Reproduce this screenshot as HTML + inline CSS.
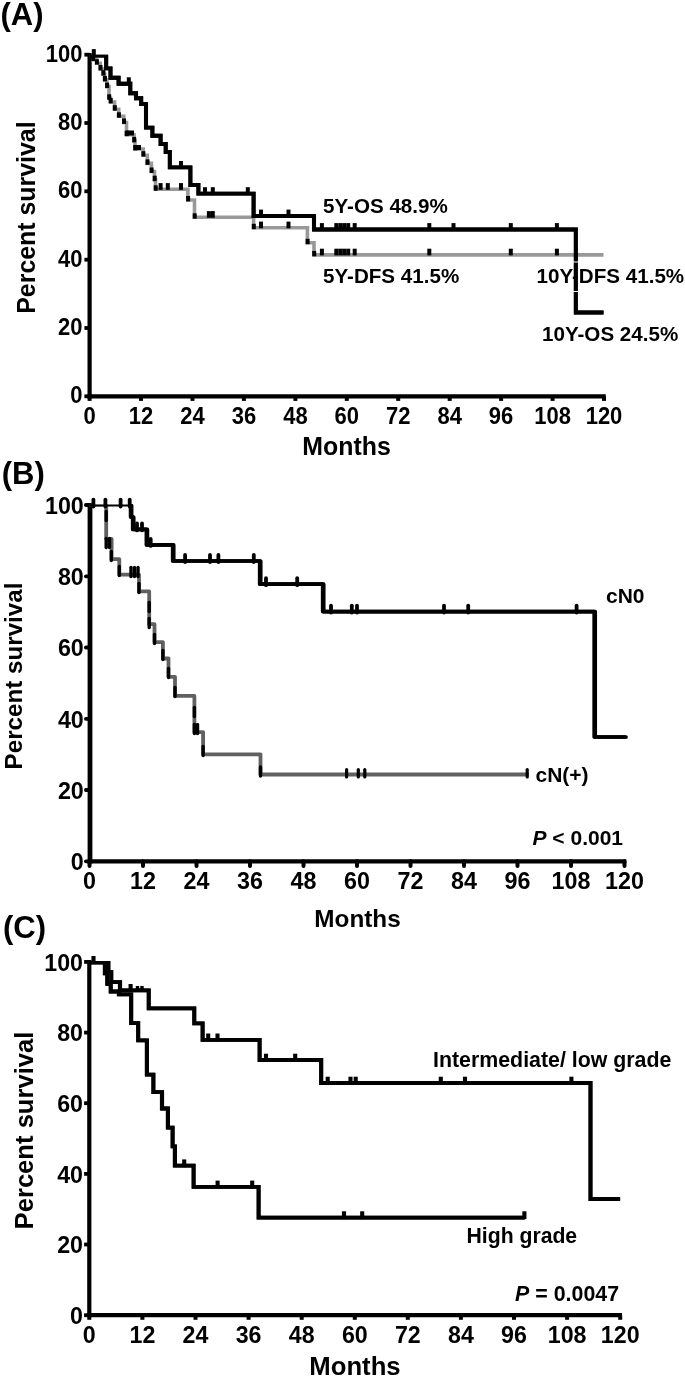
<!DOCTYPE html><html><head><meta charset="utf-8"><title>Survival curves</title>
<style>html,body{margin:0;padding:0;background:#fff}svg{display:block}</style></head><body>
<svg width="685" height="1378" viewBox="0 0 685 1378">
<rect width="685" height="1378" fill="#fff"/>
<defs><clipPath id="ca"><rect x="0" y="54.8" width="685" height="400"/></clipPath><clipPath id="cc"><rect x="0" y="961" width="685" height="400"/></clipPath></defs>
<text x="0.5" y="24.5" font-size="31" text-anchor="start" font-family="Liberation Sans, Arial, sans-serif" font-weight="bold" >(A)</text>
<line x1="89.6" y1="52.900000000000006" x2="89.6" y2="398.40000000000003" stroke="#000" stroke-width="4.2"/>
<line x1="87.5" y1="396.3" x2="605.8" y2="396.3" stroke="#000" stroke-width="4.2"/>
<line x1="84.39999999999999" y1="396.3" x2="89.6" y2="396.3" stroke="#000" stroke-width="3.8" stroke-linecap="butt"/>
<text transform="translate(82.5,403.4) scale(1,1.05)" font-size="22" text-anchor="end" font-family="Liberation Sans, Arial, sans-serif" font-weight="bold">0</text>
<line x1="84.39999999999999" y1="328.0" x2="89.6" y2="328.0" stroke="#000" stroke-width="3.8" stroke-linecap="butt"/>
<text transform="translate(82.5,335.0) scale(1,1.05)" font-size="22" text-anchor="end" font-family="Liberation Sans, Arial, sans-serif" font-weight="bold">20</text>
<line x1="84.39999999999999" y1="259.7" x2="89.6" y2="259.7" stroke="#000" stroke-width="3.8" stroke-linecap="butt"/>
<text transform="translate(82.5,266.7) scale(1,1.05)" font-size="22" text-anchor="end" font-family="Liberation Sans, Arial, sans-serif" font-weight="bold">40</text>
<line x1="84.39999999999999" y1="191.3" x2="89.6" y2="191.3" stroke="#000" stroke-width="3.8" stroke-linecap="butt"/>
<text transform="translate(82.5,198.4) scale(1,1.05)" font-size="22" text-anchor="end" font-family="Liberation Sans, Arial, sans-serif" font-weight="bold">60</text>
<line x1="84.39999999999999" y1="123.0" x2="89.6" y2="123.0" stroke="#000" stroke-width="3.8" stroke-linecap="butt"/>
<text transform="translate(82.5,130.1) scale(1,1.05)" font-size="22" text-anchor="end" font-family="Liberation Sans, Arial, sans-serif" font-weight="bold">80</text>
<line x1="84.39999999999999" y1="54.7" x2="89.6" y2="54.7" stroke="#000" stroke-width="3.8" stroke-linecap="butt"/>
<text transform="translate(82.5,61.8) scale(1,1.05)" font-size="22" text-anchor="end" font-family="Liberation Sans, Arial, sans-serif" font-weight="bold">100</text>
<line x1="89.6" y1="396.3" x2="89.6" y2="400.90000000000003" stroke="#000" stroke-width="4" stroke-linecap="butt"/>
<text transform="translate(89.6,423.6) scale(1,1.05)" font-size="22" text-anchor="middle" font-family="Liberation Sans, Arial, sans-serif" font-weight="bold">0</text>
<line x1="141.0" y1="396.3" x2="141.0" y2="400.90000000000003" stroke="#000" stroke-width="4" stroke-linecap="butt"/>
<text transform="translate(141.0,423.6) scale(1,1.05)" font-size="22" text-anchor="middle" font-family="Liberation Sans, Arial, sans-serif" font-weight="bold">12</text>
<line x1="192.5" y1="396.3" x2="192.5" y2="400.90000000000003" stroke="#000" stroke-width="4" stroke-linecap="butt"/>
<text transform="translate(192.5,423.6) scale(1,1.05)" font-size="22" text-anchor="middle" font-family="Liberation Sans, Arial, sans-serif" font-weight="bold">24</text>
<line x1="243.9" y1="396.3" x2="243.9" y2="400.90000000000003" stroke="#000" stroke-width="4" stroke-linecap="butt"/>
<text transform="translate(243.9,423.6) scale(1,1.05)" font-size="22" text-anchor="middle" font-family="Liberation Sans, Arial, sans-serif" font-weight="bold">36</text>
<line x1="295.4" y1="396.3" x2="295.4" y2="400.90000000000003" stroke="#000" stroke-width="4" stroke-linecap="butt"/>
<text transform="translate(295.4,423.6) scale(1,1.05)" font-size="22" text-anchor="middle" font-family="Liberation Sans, Arial, sans-serif" font-weight="bold">48</text>
<line x1="346.8" y1="396.3" x2="346.8" y2="400.90000000000003" stroke="#000" stroke-width="4" stroke-linecap="butt"/>
<text transform="translate(346.8,423.6) scale(1,1.05)" font-size="22" text-anchor="middle" font-family="Liberation Sans, Arial, sans-serif" font-weight="bold">60</text>
<line x1="398.2" y1="396.3" x2="398.2" y2="400.90000000000003" stroke="#000" stroke-width="4" stroke-linecap="butt"/>
<text transform="translate(398.2,423.6) scale(1,1.05)" font-size="22" text-anchor="middle" font-family="Liberation Sans, Arial, sans-serif" font-weight="bold">72</text>
<line x1="449.7" y1="396.3" x2="449.7" y2="400.90000000000003" stroke="#000" stroke-width="4" stroke-linecap="butt"/>
<text transform="translate(449.7,423.6) scale(1,1.05)" font-size="22" text-anchor="middle" font-family="Liberation Sans, Arial, sans-serif" font-weight="bold">84</text>
<line x1="501.1" y1="396.3" x2="501.1" y2="400.90000000000003" stroke="#000" stroke-width="4" stroke-linecap="butt"/>
<text transform="translate(501.1,423.6) scale(1,1.05)" font-size="22" text-anchor="middle" font-family="Liberation Sans, Arial, sans-serif" font-weight="bold">96</text>
<line x1="552.6" y1="396.3" x2="552.6" y2="400.90000000000003" stroke="#000" stroke-width="4" stroke-linecap="butt"/>
<text transform="translate(552.6,423.6) scale(1,1.05)" font-size="22" text-anchor="middle" font-family="Liberation Sans, Arial, sans-serif" font-weight="bold">108</text>
<line x1="604.0" y1="396.3" x2="604.0" y2="400.90000000000003" stroke="#000" stroke-width="4" stroke-linecap="butt"/>
<text transform="translate(604.0,423.6) scale(1,1.05)" font-size="22" text-anchor="middle" font-family="Liberation Sans, Arial, sans-serif" font-weight="bold">120</text>
<text transform="translate(34.5,217.6) rotate(-90)" font-size="24.9" text-anchor="middle" font-family="Liberation Sans, Arial, sans-serif" font-weight="bold">Percent survival</text>
<text x="346.5" y="455" font-size="24.9" text-anchor="middle" font-family="Liberation Sans, Arial, sans-serif" font-weight="bold" >Months</text>
<g clip-path="url(#ca)">
<path d="M89.6 55.5 H93.0 V59.6 H96.7 V63.2 H100.3 V69.0 H103.2 V74.2 H104.7 V80.0 H106.9 V86.6 H109.0 V98.3 H110.5 V102.0 H114.6 V109.2 H118.7 V116.3 H123.8 V122.5 H126.5 V134.7 H134.0 V140.9 H135.0 V149.0 H143.2 V155.2 H147.3 V163.4 H151.4 V171.5 H154.5 V179.7 H155.5 V189.3 H187.9 V200.0 H194.5 V217.3 H253.6 V227.8 H307.4 V242.8 H314.0 V254.9 H603.5 V254.9" fill="none" stroke="#999" stroke-width="3.6" stroke-linejoin="miter" stroke-linecap="butt"/>
</g>
<rect x="91.2" y="55.6" width="4" height="5.4" fill="#000"/>
<rect x="94.9" y="59.2" width="4" height="5.4" fill="#000"/>
<rect x="98.5" y="65.0" width="4" height="5.4" fill="#000"/>
<rect x="101.4" y="70.2" width="4" height="5.4" fill="#000"/>
<rect x="102.9" y="76.0" width="4" height="5.4" fill="#000"/>
<rect x="105.1" y="82.6" width="4" height="5.4" fill="#000"/>
<rect x="107.2" y="94.3" width="4" height="5.4" fill="#000"/>
<rect x="108.7" y="98.0" width="4" height="5.4" fill="#000"/>
<rect x="112.8" y="105.2" width="4" height="5.4" fill="#000"/>
<rect x="116.9" y="112.3" width="4" height="5.4" fill="#000"/>
<rect x="122.0" y="118.5" width="4" height="5.4" fill="#000"/>
<rect x="124.7" y="130.7" width="4" height="5.4" fill="#000"/>
<rect x="132.2" y="136.9" width="4" height="5.4" fill="#000"/>
<rect x="133.2" y="145.0" width="4" height="5.4" fill="#000"/>
<rect x="141.4" y="151.2" width="4" height="5.4" fill="#000"/>
<rect x="145.5" y="159.4" width="4" height="5.4" fill="#000"/>
<rect x="149.6" y="167.5" width="4" height="5.4" fill="#000"/>
<rect x="152.7" y="175.7" width="4" height="5.4" fill="#000"/>
<rect x="153.7" y="185.3" width="4" height="5.4" fill="#000"/>
<rect x="186.1" y="196.0" width="4" height="5.4" fill="#000"/>
<rect x="192.7" y="213.3" width="4" height="5.4" fill="#000"/>
<rect x="251.8" y="223.8" width="4" height="5.4" fill="#000"/>
<rect x="305.6" y="238.8" width="4" height="5.4" fill="#000"/>
<rect x="312.2" y="250.9" width="4" height="5.4" fill="#000"/>
<rect x="126" y="130.5" width="8" height="5" fill="#000"/>
<rect x="134" y="145" width="7" height="5" fill="#000"/>
<line x1="160.6" y1="183.1" x2="160.6" y2="189.8" stroke="#000" stroke-width="4.0"/>
<line x1="167.8" y1="183.1" x2="167.8" y2="189.8" stroke="#000" stroke-width="4.0"/>
<line x1="181.0" y1="183.1" x2="181.0" y2="189.8" stroke="#000" stroke-width="4.0"/>
<line x1="208.9" y1="211.1" x2="208.9" y2="217.8" stroke="#000" stroke-width="4.0"/>
<line x1="212.8" y1="211.1" x2="212.8" y2="217.8" stroke="#000" stroke-width="4.0"/>
<line x1="261.0" y1="221.6" x2="261.0" y2="228.3" stroke="#000" stroke-width="4.0"/>
<line x1="288.5" y1="221.6" x2="288.5" y2="228.3" stroke="#000" stroke-width="4.0"/>
<line x1="321.9" y1="248.7" x2="321.9" y2="255.4" stroke="#000" stroke-width="4.0"/>
<line x1="336.3" y1="248.7" x2="336.3" y2="255.4" stroke="#000" stroke-width="4.0"/>
<line x1="340.3" y1="248.7" x2="340.3" y2="255.4" stroke="#000" stroke-width="4.0"/>
<line x1="344.2" y1="248.7" x2="344.2" y2="255.4" stroke="#000" stroke-width="4.0"/>
<line x1="348.2" y1="248.7" x2="348.2" y2="255.4" stroke="#000" stroke-width="4.0"/>
<line x1="354.7" y1="248.7" x2="354.7" y2="255.4" stroke="#000" stroke-width="4.0"/>
<line x1="429.3" y1="248.7" x2="429.3" y2="255.4" stroke="#000" stroke-width="4.0"/>
<line x1="510.8" y1="248.7" x2="510.8" y2="255.4" stroke="#000" stroke-width="4.0"/>
<line x1="556.9" y1="248.7" x2="556.9" y2="255.4" stroke="#000" stroke-width="4.0"/>
<g clip-path="url(#ca)">
<path d="M89.6 55.5 H106.2 V68.4 H110.5 V77.8 H118.6 V83.7 H130.3 V93.2 H136.0 V98.3 H141.2 V104.0 H146.0 V127.6 H152.4 V135.8 H160.6 V144.0 H165.7 V152.0 H169.8 V167.4 H190.4 V185.0 H198.4 V193.6 H253.6 V216.0 H314.0 V229.5 H575.8 V312.5 H603.5 V312.5" transform="translate(-0.10,0)" fill="none" stroke="#000" stroke-width="3.9" stroke-linejoin="miter" stroke-linecap="butt"/>
<path d="M89.6 55.5 H106.2 V68.4 H110.5 V77.8 H118.6 V83.7 H130.3 V93.2 H136.0 V98.3 H141.2 V104.0 H146.0 V127.6 H152.4 V135.8 H160.6 V144.0 H165.7 V152.0 H169.8 V167.4 H190.4 V185.0 H198.4 V193.6 H253.6 V216.0 H314.0 V229.5 H575.8 V312.5 H603.5 V312.5" transform="translate(0.10,0)" fill="none" stroke="#000" stroke-width="3.9" stroke-linejoin="miter" stroke-linecap="butt"/>
</g>
<line x1="93.8" y1="49.1" x2="93.8" y2="57.0" stroke="#000" stroke-width="4.0"/>
<line x1="128.8" y1="77.3" x2="128.8" y2="85.2" stroke="#000" stroke-width="4.0"/>
<line x1="181.0" y1="161.0" x2="181.0" y2="168.9" stroke="#000" stroke-width="4.0"/>
<line x1="205.0" y1="187.2" x2="205.0" y2="195.1" stroke="#000" stroke-width="4.0"/>
<line x1="212.8" y1="187.2" x2="212.8" y2="195.1" stroke="#000" stroke-width="4.0"/>
<line x1="247.8" y1="187.2" x2="247.8" y2="195.1" stroke="#000" stroke-width="4.0"/>
<line x1="261.0" y1="209.6" x2="261.0" y2="217.5" stroke="#000" stroke-width="4.0"/>
<line x1="288.5" y1="209.6" x2="288.5" y2="217.5" stroke="#000" stroke-width="4.0"/>
<line x1="321.9" y1="223.1" x2="321.9" y2="231.0" stroke="#000" stroke-width="4.0"/>
<line x1="336.3" y1="223.1" x2="336.3" y2="231.0" stroke="#000" stroke-width="4.0"/>
<line x1="340.3" y1="223.1" x2="340.3" y2="231.0" stroke="#000" stroke-width="4.0"/>
<line x1="344.2" y1="223.1" x2="344.2" y2="231.0" stroke="#000" stroke-width="4.0"/>
<line x1="348.2" y1="223.1" x2="348.2" y2="231.0" stroke="#000" stroke-width="4.0"/>
<line x1="354.7" y1="223.1" x2="354.7" y2="231.0" stroke="#000" stroke-width="4.0"/>
<line x1="429.3" y1="223.1" x2="429.3" y2="231.0" stroke="#000" stroke-width="4.0"/>
<line x1="453.5" y1="223.1" x2="453.5" y2="231.0" stroke="#000" stroke-width="4.0"/>
<line x1="510.8" y1="223.1" x2="510.8" y2="231.0" stroke="#000" stroke-width="4.0"/>
<line x1="556.9" y1="223.1" x2="556.9" y2="231.0" stroke="#000" stroke-width="4.0"/>
<text x="323" y="212.6" font-size="20.6" text-anchor="start" font-family="Liberation Sans, Arial, sans-serif" font-weight="bold" >5Y-OS 48.9%</text>
<text x="323" y="282.9" font-size="20.6" text-anchor="start" font-family="Liberation Sans, Arial, sans-serif" font-weight="bold" >5Y-DFS 41.5%</text>
<text x="536.5" y="282.7" font-size="20.6" text-anchor="start" font-family="Liberation Sans, Arial, sans-serif" font-weight="bold" >10Y-DFS 41.5%</text>
<text x="542" y="341" font-size="20.6" text-anchor="start" font-family="Liberation Sans, Arial, sans-serif" font-weight="bold" >10Y-OS 24.5%</text>
<rect x="573" y="261.5" width="6" height="1" fill="#fff"/><rect x="573" y="291" width="6" height="1" fill="#fff"/>
<text x="1.8" y="483.5" font-size="31" text-anchor="start" font-family="Liberation Sans, Arial, sans-serif" font-weight="bold" >(B)</text>
<line x1="90" y1="503.2" x2="90" y2="863.4" stroke="#000" stroke-width="4.8"/>
<line x1="87.6" y1="861.3" x2="626.3" y2="861.3" stroke="#000" stroke-width="4.2"/>
<line x1="85.9" y1="861.3" x2="89.5" y2="861.3" stroke="#000" stroke-width="3.8" stroke-linecap="round"/>
<text transform="translate(83.8,870.1) scale(1,1.05)" font-size="23.3" text-anchor="end" font-family="Liberation Sans, Arial, sans-serif" font-weight="bold">0</text>
<line x1="85.9" y1="790.0" x2="89.5" y2="790.0" stroke="#000" stroke-width="3.8" stroke-linecap="round"/>
<text transform="translate(83.8,798.8) scale(1,1.05)" font-size="23.3" text-anchor="end" font-family="Liberation Sans, Arial, sans-serif" font-weight="bold">20</text>
<line x1="85.9" y1="718.8" x2="89.5" y2="718.8" stroke="#000" stroke-width="3.8" stroke-linecap="round"/>
<text transform="translate(83.8,727.5) scale(1,1.05)" font-size="23.3" text-anchor="end" font-family="Liberation Sans, Arial, sans-serif" font-weight="bold">40</text>
<line x1="85.9" y1="647.5" x2="89.5" y2="647.5" stroke="#000" stroke-width="3.8" stroke-linecap="round"/>
<text transform="translate(83.8,656.3) scale(1,1.05)" font-size="23.3" text-anchor="end" font-family="Liberation Sans, Arial, sans-serif" font-weight="bold">60</text>
<line x1="85.9" y1="576.3" x2="89.5" y2="576.3" stroke="#000" stroke-width="3.8" stroke-linecap="round"/>
<text transform="translate(83.8,585.0) scale(1,1.05)" font-size="23.3" text-anchor="end" font-family="Liberation Sans, Arial, sans-serif" font-weight="bold">80</text>
<line x1="85.9" y1="505.0" x2="89.5" y2="505.0" stroke="#000" stroke-width="3.8" stroke-linecap="round"/>
<text transform="translate(83.8,513.8) scale(1,1.05)" font-size="23.3" text-anchor="end" font-family="Liberation Sans, Arial, sans-serif" font-weight="bold">100</text>
<line x1="89.5" y1="861.3" x2="89.5" y2="865.9" stroke="#000" stroke-width="4" stroke-linecap="round"/>
<text transform="translate(89.5,888.7) scale(1,1.05)" font-size="23.3" text-anchor="middle" font-family="Liberation Sans, Arial, sans-serif" font-weight="bold">0</text>
<line x1="143.0" y1="861.3" x2="143.0" y2="865.9" stroke="#000" stroke-width="4" stroke-linecap="round"/>
<text transform="translate(143.0,888.7) scale(1,1.05)" font-size="23.3" text-anchor="middle" font-family="Liberation Sans, Arial, sans-serif" font-weight="bold">12</text>
<line x1="196.5" y1="861.3" x2="196.5" y2="865.9" stroke="#000" stroke-width="4" stroke-linecap="round"/>
<text transform="translate(196.5,888.7) scale(1,1.05)" font-size="23.3" text-anchor="middle" font-family="Liberation Sans, Arial, sans-serif" font-weight="bold">24</text>
<line x1="250.0" y1="861.3" x2="250.0" y2="865.9" stroke="#000" stroke-width="4" stroke-linecap="round"/>
<text transform="translate(250.0,888.7) scale(1,1.05)" font-size="23.3" text-anchor="middle" font-family="Liberation Sans, Arial, sans-serif" font-weight="bold">36</text>
<line x1="303.5" y1="861.3" x2="303.5" y2="865.9" stroke="#000" stroke-width="4" stroke-linecap="round"/>
<text transform="translate(303.5,888.7) scale(1,1.05)" font-size="23.3" text-anchor="middle" font-family="Liberation Sans, Arial, sans-serif" font-weight="bold">48</text>
<line x1="357.0" y1="861.3" x2="357.0" y2="865.9" stroke="#000" stroke-width="4" stroke-linecap="round"/>
<text transform="translate(357.0,888.7) scale(1,1.05)" font-size="23.3" text-anchor="middle" font-family="Liberation Sans, Arial, sans-serif" font-weight="bold">60</text>
<line x1="410.5" y1="861.3" x2="410.5" y2="865.9" stroke="#000" stroke-width="4" stroke-linecap="round"/>
<text transform="translate(410.5,888.7) scale(1,1.05)" font-size="23.3" text-anchor="middle" font-family="Liberation Sans, Arial, sans-serif" font-weight="bold">72</text>
<line x1="464.0" y1="861.3" x2="464.0" y2="865.9" stroke="#000" stroke-width="4" stroke-linecap="round"/>
<text transform="translate(464.0,888.7) scale(1,1.05)" font-size="23.3" text-anchor="middle" font-family="Liberation Sans, Arial, sans-serif" font-weight="bold">84</text>
<line x1="517.5" y1="861.3" x2="517.5" y2="865.9" stroke="#000" stroke-width="4" stroke-linecap="round"/>
<text transform="translate(517.5,888.7) scale(1,1.05)" font-size="23.3" text-anchor="middle" font-family="Liberation Sans, Arial, sans-serif" font-weight="bold">96</text>
<line x1="571.0" y1="861.3" x2="571.0" y2="865.9" stroke="#000" stroke-width="4" stroke-linecap="round"/>
<text transform="translate(571.0,888.7) scale(1,1.05)" font-size="23.3" text-anchor="middle" font-family="Liberation Sans, Arial, sans-serif" font-weight="bold">108</text>
<line x1="624.5" y1="861.3" x2="624.5" y2="865.9" stroke="#000" stroke-width="4" stroke-linecap="round"/>
<text transform="translate(624.5,888.7) scale(1,1.05)" font-size="23.3" text-anchor="middle" font-family="Liberation Sans, Arial, sans-serif" font-weight="bold">120</text>
<text transform="translate(22,676) rotate(-90)" font-size="24.2" text-anchor="middle" font-family="Liberation Sans, Arial, sans-serif" font-weight="bold">Percent survival</text>
<text x="357.5" y="926.6" font-size="24.3" text-anchor="middle" font-family="Liberation Sans, Arial, sans-serif" font-weight="bold" >Months</text>
<path d="M89.5 505.6 H106.2" fill="none" stroke="#777" stroke-width="1.8"/>
<path d="M106.2 505.6 H106.2 V538.8 H111.6 V559.2 H119.3 V574.6 H139.0 V591.4 H149.2 V624.2 H154.5 V642.2 H162.9 V658.5 H168.5 V676.8 H175.0 V695.9 H194.4 V732.1 H203.1 V754.3 H260.5 V774.5 H527.2 V774.5" fill="none" stroke="#606060" stroke-width="3.8" stroke-linejoin="round" stroke-linecap="round"/>
<line x1="106.2" y1="511.5" x2="106.2" y2="520.5" stroke="#000" stroke-width="3.4" stroke-linecap="round"/>
<line x1="106.2" y1="538.5" x2="106.2" y2="547.5" stroke="#000" stroke-width="3.4" stroke-linecap="round"/>
<line x1="109.5" y1="538.5" x2="109.5" y2="547.5" stroke="#000" stroke-width="3.4" stroke-linecap="round"/>
<line x1="111.3" y1="551.5" x2="111.3" y2="560.5" stroke="#000" stroke-width="3.4" stroke-linecap="round"/>
<line x1="119.3" y1="566.5" x2="119.3" y2="575.5" stroke="#000" stroke-width="3.4" stroke-linecap="round"/>
<line x1="131" y1="567.5" x2="131" y2="576.5" stroke="#000" stroke-width="3.4" stroke-linecap="round"/>
<line x1="134.5" y1="567.5" x2="134.5" y2="576.5" stroke="#000" stroke-width="3.4" stroke-linecap="round"/>
<line x1="138" y1="567.5" x2="138" y2="576.5" stroke="#000" stroke-width="3.4" stroke-linecap="round"/>
<line x1="139" y1="583.5" x2="139" y2="592.5" stroke="#000" stroke-width="3.4" stroke-linecap="round"/>
<line x1="149.2" y1="602.5" x2="149.2" y2="611.5" stroke="#000" stroke-width="3.4" stroke-linecap="round"/>
<line x1="149.2" y1="618.5" x2="149.2" y2="627.5" stroke="#000" stroke-width="3.4" stroke-linecap="round"/>
<line x1="154.5" y1="634.5" x2="154.5" y2="643.5" stroke="#000" stroke-width="3.4" stroke-linecap="round"/>
<line x1="162.9" y1="650.5" x2="162.9" y2="659.5" stroke="#000" stroke-width="3.4" stroke-linecap="round"/>
<line x1="168.5" y1="668.5" x2="168.5" y2="677.5" stroke="#000" stroke-width="3.4" stroke-linecap="round"/>
<line x1="175" y1="687.5" x2="175" y2="696.5" stroke="#000" stroke-width="3.4" stroke-linecap="round"/>
<line x1="194.4" y1="707.5" x2="194.4" y2="716.5" stroke="#000" stroke-width="3.4" stroke-linecap="round"/>
<line x1="194.4" y1="724.5" x2="194.4" y2="733.5" stroke="#000" stroke-width="3.4" stroke-linecap="round"/>
<line x1="197.5" y1="724.5" x2="197.5" y2="733.5" stroke="#000" stroke-width="3.4" stroke-linecap="round"/>
<line x1="203.1" y1="746.5" x2="203.1" y2="755.5" stroke="#000" stroke-width="3.4" stroke-linecap="round"/>
<line x1="260.5" y1="767.0" x2="260.5" y2="776.0" stroke="#000" stroke-width="3.4" stroke-linecap="round"/>
<line x1="346.6" y1="769.5" x2="346.6" y2="777" stroke="#000" stroke-width="3.2" stroke-linecap="round"/>
<line x1="358.3" y1="769.5" x2="358.3" y2="777" stroke="#000" stroke-width="3.2" stroke-linecap="round"/>
<line x1="364.8" y1="769.5" x2="364.8" y2="777" stroke="#000" stroke-width="3.2" stroke-linecap="round"/>
<line x1="527.2" y1="769.5" x2="527.2" y2="777" stroke="#000" stroke-width="3.2" stroke-linecap="round"/>
<path d="M89.5 505.6 H131.1" fill="none" stroke="#000" stroke-width="2"/>
<path d="M131.1 505.6 H131.1 V517.0 H133.2 V529.4 H146.9 V544.9 H173.2 V561.0 H260.2 V584.2 H323.2 V611.6 H594.7 V737.0 H625.5 V737.0" transform="translate(-0.50,0)" fill="none" stroke="#000" stroke-width="3.7" stroke-linejoin="round" stroke-linecap="round"/>
<path d="M131.1 505.6 H131.1 V517.0 H133.2 V529.4 H146.9 V544.9 H173.2 V561.0 H260.2 V584.2 H323.2 V611.6 H594.7 V737.0 H625.5 V737.0" transform="translate(0.50,0)" fill="none" stroke="#000" stroke-width="3.7" stroke-linejoin="round" stroke-linecap="round"/>
<line x1="93.4" y1="499.6" x2="93.4" y2="506.6" stroke="#000" stroke-width="3.8" stroke-linecap="round"/>
<line x1="105.4" y1="499.6" x2="105.4" y2="506.6" stroke="#000" stroke-width="3.8" stroke-linecap="round"/>
<line x1="120.6" y1="499.6" x2="120.6" y2="506.6" stroke="#000" stroke-width="3.8" stroke-linecap="round"/>
<line x1="129.7" y1="499.6" x2="129.7" y2="506.6" stroke="#000" stroke-width="3.8" stroke-linecap="round"/>
<line x1="137" y1="523.4" x2="137" y2="530.4" stroke="#000" stroke-width="3.8" stroke-linecap="round"/>
<line x1="142" y1="523.4" x2="142" y2="530.4" stroke="#000" stroke-width="3.8" stroke-linecap="round"/>
<line x1="150.7" y1="538.9" x2="150.7" y2="545.9" stroke="#000" stroke-width="3.8" stroke-linecap="round"/>
<line x1="185.1" y1="555" x2="185.1" y2="562" stroke="#000" stroke-width="3.8" stroke-linecap="round"/>
<line x1="210" y1="555" x2="210" y2="562" stroke="#000" stroke-width="3.8" stroke-linecap="round"/>
<line x1="218.4" y1="555" x2="218.4" y2="562" stroke="#000" stroke-width="3.8" stroke-linecap="round"/>
<line x1="253.8" y1="555" x2="253.8" y2="562" stroke="#000" stroke-width="3.8" stroke-linecap="round"/>
<line x1="266" y1="578.2" x2="266" y2="585.2" stroke="#000" stroke-width="3.8" stroke-linecap="round"/>
<line x1="297.2" y1="578.2" x2="297.2" y2="585.2" stroke="#000" stroke-width="3.8" stroke-linecap="round"/>
<line x1="331" y1="605.6" x2="331" y2="612.6" stroke="#000" stroke-width="3.8" stroke-linecap="round"/>
<line x1="351.8" y1="605.6" x2="351.8" y2="612.6" stroke="#000" stroke-width="3.8" stroke-linecap="round"/>
<line x1="357" y1="605.6" x2="357" y2="612.6" stroke="#000" stroke-width="3.8" stroke-linecap="round"/>
<line x1="444" y1="605.6" x2="444" y2="612.6" stroke="#000" stroke-width="3.8" stroke-linecap="round"/>
<line x1="468.2" y1="605.6" x2="468.2" y2="612.6" stroke="#000" stroke-width="3.8" stroke-linecap="round"/>
<line x1="576.6" y1="605.6" x2="576.6" y2="612.6" stroke="#000" stroke-width="3.8" stroke-linecap="round"/>
<text x="606" y="602.6" font-size="21" text-anchor="start" font-family="Liberation Sans, Arial, sans-serif" font-weight="bold" >cN0</text>
<text x="535.5" y="781.6" font-size="21" text-anchor="start" font-family="Liberation Sans, Arial, sans-serif" font-weight="bold" >cN(+)</text>
<text x="532.5" y="845" font-size="21" font-family="Liberation Sans, Arial, sans-serif" font-weight="bold"><tspan font-style="italic">P</tspan> &lt; 0.001</text>
<text x="3" y="938" font-size="31" text-anchor="start" font-family="Liberation Sans, Arial, sans-serif" font-weight="bold" >(C)</text>
<line x1="89.3" y1="960.1" x2="89.3" y2="1317.3" stroke="#000" stroke-width="4.2"/>
<line x1="87.2" y1="1315.2" x2="622.0" y2="1315.2" stroke="#000" stroke-width="4.2"/>
<line x1="84.1" y1="1315.2" x2="89.3" y2="1315.2" stroke="#000" stroke-width="3.8" stroke-linecap="butt"/>
<text transform="translate(83,1324.1) scale(1,1.07)" font-size="23.2" text-anchor="end" font-family="Liberation Sans, Arial, sans-serif" font-weight="bold">0</text>
<line x1="84.1" y1="1244.5" x2="89.3" y2="1244.5" stroke="#000" stroke-width="3.8" stroke-linecap="butt"/>
<text transform="translate(83,1253.4) scale(1,1.07)" font-size="23.2" text-anchor="end" font-family="Liberation Sans, Arial, sans-serif" font-weight="bold">20</text>
<line x1="84.1" y1="1173.9" x2="89.3" y2="1173.9" stroke="#000" stroke-width="3.8" stroke-linecap="butt"/>
<text transform="translate(83,1182.8) scale(1,1.07)" font-size="23.2" text-anchor="end" font-family="Liberation Sans, Arial, sans-serif" font-weight="bold">40</text>
<line x1="84.1" y1="1103.2" x2="89.3" y2="1103.2" stroke="#000" stroke-width="3.8" stroke-linecap="butt"/>
<text transform="translate(83,1112.1) scale(1,1.07)" font-size="23.2" text-anchor="end" font-family="Liberation Sans, Arial, sans-serif" font-weight="bold">60</text>
<line x1="84.1" y1="1032.6" x2="89.3" y2="1032.6" stroke="#000" stroke-width="3.8" stroke-linecap="butt"/>
<text transform="translate(83,1041.4) scale(1,1.07)" font-size="23.2" text-anchor="end" font-family="Liberation Sans, Arial, sans-serif" font-weight="bold">80</text>
<line x1="84.1" y1="961.9" x2="89.3" y2="961.9" stroke="#000" stroke-width="3.8" stroke-linecap="butt"/>
<text transform="translate(83,970.8) scale(1,1.07)" font-size="23.2" text-anchor="end" font-family="Liberation Sans, Arial, sans-serif" font-weight="bold">100</text>
<line x1="89.3" y1="1315.2" x2="89.3" y2="1319.8" stroke="#000" stroke-width="4" stroke-linecap="butt"/>
<text transform="translate(89.3,1343.2) scale(1,1.07)" font-size="23.2" text-anchor="middle" font-family="Liberation Sans, Arial, sans-serif" font-weight="bold">0</text>
<line x1="142.4" y1="1315.2" x2="142.4" y2="1319.8" stroke="#000" stroke-width="4" stroke-linecap="butt"/>
<text transform="translate(142.4,1343.2) scale(1,1.07)" font-size="23.2" text-anchor="middle" font-family="Liberation Sans, Arial, sans-serif" font-weight="bold">12</text>
<line x1="195.5" y1="1315.2" x2="195.5" y2="1319.8" stroke="#000" stroke-width="4" stroke-linecap="butt"/>
<text transform="translate(195.5,1343.2) scale(1,1.07)" font-size="23.2" text-anchor="middle" font-family="Liberation Sans, Arial, sans-serif" font-weight="bold">24</text>
<line x1="248.6" y1="1315.2" x2="248.6" y2="1319.8" stroke="#000" stroke-width="4" stroke-linecap="butt"/>
<text transform="translate(248.6,1343.2) scale(1,1.07)" font-size="23.2" text-anchor="middle" font-family="Liberation Sans, Arial, sans-serif" font-weight="bold">36</text>
<line x1="301.7" y1="1315.2" x2="301.7" y2="1319.8" stroke="#000" stroke-width="4" stroke-linecap="butt"/>
<text transform="translate(301.7,1343.2) scale(1,1.07)" font-size="23.2" text-anchor="middle" font-family="Liberation Sans, Arial, sans-serif" font-weight="bold">48</text>
<line x1="354.8" y1="1315.2" x2="354.8" y2="1319.8" stroke="#000" stroke-width="4" stroke-linecap="butt"/>
<text transform="translate(354.8,1343.2) scale(1,1.07)" font-size="23.2" text-anchor="middle" font-family="Liberation Sans, Arial, sans-serif" font-weight="bold">60</text>
<line x1="407.8" y1="1315.2" x2="407.8" y2="1319.8" stroke="#000" stroke-width="4" stroke-linecap="butt"/>
<text transform="translate(407.8,1343.2) scale(1,1.07)" font-size="23.2" text-anchor="middle" font-family="Liberation Sans, Arial, sans-serif" font-weight="bold">72</text>
<line x1="460.9" y1="1315.2" x2="460.9" y2="1319.8" stroke="#000" stroke-width="4" stroke-linecap="butt"/>
<text transform="translate(460.9,1343.2) scale(1,1.07)" font-size="23.2" text-anchor="middle" font-family="Liberation Sans, Arial, sans-serif" font-weight="bold">84</text>
<line x1="514.0" y1="1315.2" x2="514.0" y2="1319.8" stroke="#000" stroke-width="4" stroke-linecap="butt"/>
<text transform="translate(514.0,1343.2) scale(1,1.07)" font-size="23.2" text-anchor="middle" font-family="Liberation Sans, Arial, sans-serif" font-weight="bold">96</text>
<line x1="567.1" y1="1315.2" x2="567.1" y2="1319.8" stroke="#000" stroke-width="4" stroke-linecap="butt"/>
<text transform="translate(567.1,1343.2) scale(1,1.07)" font-size="23.2" text-anchor="middle" font-family="Liberation Sans, Arial, sans-serif" font-weight="bold">108</text>
<line x1="620.2" y1="1315.2" x2="620.2" y2="1319.8" stroke="#000" stroke-width="4" stroke-linecap="butt"/>
<text transform="translate(620.2,1343.2) scale(1,1.07)" font-size="23.2" text-anchor="middle" font-family="Liberation Sans, Arial, sans-serif" font-weight="bold">120</text>
<text transform="translate(32.5,1130.5) rotate(-90)" font-size="25.6" text-anchor="middle" font-family="Liberation Sans, Arial, sans-serif" font-weight="bold">Percent survival</text>
<text x="355" y="1374.5" font-size="25.7" text-anchor="middle" font-family="Liberation Sans, Arial, sans-serif" font-weight="bold" >Months</text>
<g clip-path="url(#cc)">
<path d="M89.3 962.3 H108.4 V972.2 H111.3 V982.1 H120.0 V990.3 H148.7 V1008.4 H194.3 V1023.4 H202.6 V1039.8 H259.6 V1060.0 H321.2 V1083.0 H590.5 V1199.0 H620.0 V1199.0" transform="translate(-0.20,0)" fill="none" stroke="#000" stroke-width="3.8" stroke-linejoin="miter" stroke-linecap="butt"/>
<path d="M89.3 962.3 H108.4 V972.2 H111.3 V982.1 H120.0 V990.3 H148.7 V1008.4 H194.3 V1023.4 H202.6 V1039.8 H259.6 V1060.0 H321.2 V1083.0 H590.5 V1199.0 H620.0 V1199.0" transform="translate(0.20,0)" fill="none" stroke="#000" stroke-width="3.8" stroke-linejoin="miter" stroke-linecap="butt"/>
</g>
<g clip-path="url(#cc)">
<path d="M89.3 962.3 H104.9 V973.4 H107.3 V983.9 H110.7 V991.5 H118.9 V994.4 H131.2 V1023.2 H138.2 V1040.3 H146.9 V1074.6 H153.4 V1092.1 H162.0 V1108.5 H167.9 V1127.6 H172.6 V1146.3 H174.9 V1165.7 H193.6 V1186.9 H258.6 V1217.6 H524.6 V1217.6" transform="translate(-0.20,0)" fill="none" stroke="#000" stroke-width="3.8" stroke-linejoin="miter" stroke-linecap="butt"/>
<path d="M89.3 962.3 H104.9 V973.4 H107.3 V983.9 H110.7 V991.5 H118.9 V994.4 H131.2 V1023.2 H138.2 V1040.3 H146.9 V1074.6 H153.4 V1092.1 H162.0 V1108.5 H167.9 V1127.6 H172.6 V1146.3 H174.9 V1165.7 H193.6 V1186.9 H258.6 V1217.6 H524.6 V1217.6" transform="translate(0.20,0)" fill="none" stroke="#000" stroke-width="3.8" stroke-linejoin="miter" stroke-linecap="butt"/>
</g>
<line x1="137.5" y1="986.0" x2="137.5" y2="991.8" stroke="#000" stroke-width="3.4"/>
<line x1="142.0" y1="986.0" x2="142.0" y2="991.8" stroke="#000" stroke-width="3.4"/>
<line x1="93.5" y1="956.0" x2="93.5" y2="963.8" stroke="#000" stroke-width="4.1"/>
<line x1="130.6" y1="984.0" x2="130.6" y2="991.8" stroke="#000" stroke-width="4.1"/>
<line x1="208.2" y1="1033.5" x2="208.2" y2="1041.3" stroke="#000" stroke-width="4.1"/>
<line x1="217.5" y1="1033.5" x2="217.5" y2="1041.3" stroke="#000" stroke-width="4.1"/>
<line x1="266.0" y1="1053.7" x2="266.0" y2="1061.5" stroke="#000" stroke-width="4.1"/>
<line x1="295.2" y1="1053.7" x2="295.2" y2="1061.5" stroke="#000" stroke-width="4.1"/>
<line x1="327.7" y1="1076.7" x2="327.7" y2="1084.5" stroke="#000" stroke-width="4.1"/>
<line x1="350.5" y1="1076.7" x2="350.5" y2="1084.5" stroke="#000" stroke-width="4.1"/>
<line x1="355.7" y1="1076.7" x2="355.7" y2="1084.5" stroke="#000" stroke-width="4.1"/>
<line x1="440.8" y1="1076.7" x2="440.8" y2="1084.5" stroke="#000" stroke-width="4.1"/>
<line x1="465.0" y1="1076.7" x2="465.0" y2="1084.5" stroke="#000" stroke-width="4.1"/>
<line x1="571.4" y1="1076.7" x2="571.4" y2="1084.5" stroke="#000" stroke-width="4.1"/>
<line x1="184.2" y1="1159.4" x2="184.2" y2="1167.2" stroke="#000" stroke-width="4.1"/>
<line x1="217.6" y1="1180.6" x2="217.6" y2="1188.4" stroke="#000" stroke-width="4.1"/>
<line x1="252.2" y1="1180.6" x2="252.2" y2="1188.4" stroke="#000" stroke-width="4.1"/>
<line x1="344.0" y1="1211.3" x2="344.0" y2="1219.1" stroke="#000" stroke-width="4.1"/>
<line x1="362.2" y1="1211.3" x2="362.2" y2="1219.1" stroke="#000" stroke-width="4.1"/>
<line x1="524.4" y1="1211.3" x2="524.4" y2="1219.1" stroke="#000" stroke-width="4.1"/>
<text x="433" y="1066.8" font-size="21.35" text-anchor="start" font-family="Liberation Sans, Arial, sans-serif" font-weight="bold" >Intermediate/ low grade</text>
<text x="466.5" y="1242.5" font-size="21.2" text-anchor="start" font-family="Liberation Sans, Arial, sans-serif" font-weight="bold" >High grade</text>
<text x="515" y="1301.3" font-size="21.4" font-family="Liberation Sans, Arial, sans-serif" font-weight="bold"><tspan font-style="italic">P</tspan> = 0.0047</text>
</svg></body></html>
